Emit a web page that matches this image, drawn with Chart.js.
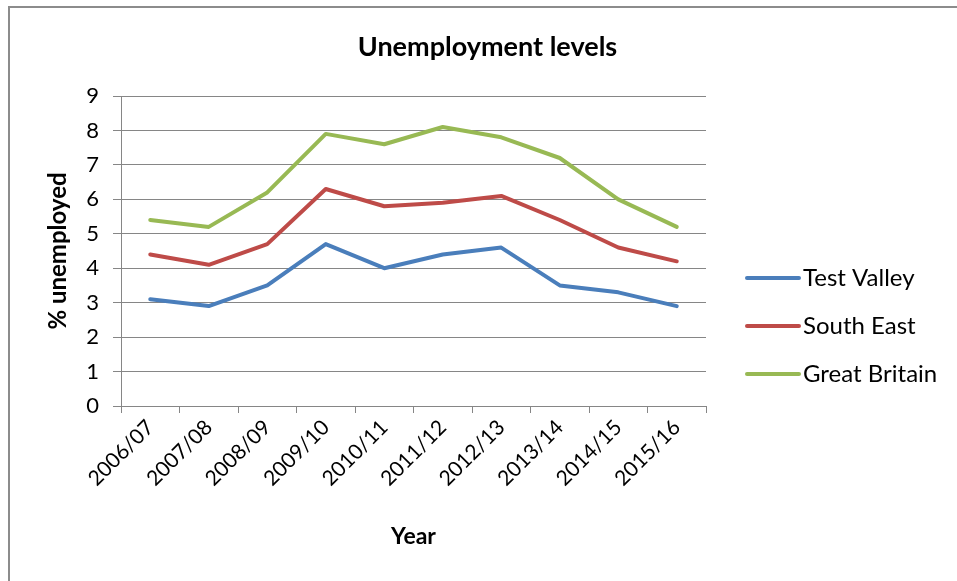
<!DOCTYPE html>
<html lang="en">
<head>
    <meta charset="UTF-8">
    <title>Unemployment levels</title>
    <script src="https://cdn.jsdelivr.net/npm/chart.js"></script>
    <style>
        body {
            margin: 0;
            background: #fff;
        }
        .frame {
            position: absolute;
            left: 8px;
            top: 6px;
            width: 949px;
            height: 575px;
            border-left: 2px solid #8c8c8c;
            border-top: 2px solid #8c8c8c;
        }
        canvas {
            position: absolute;
            left: 0;
            top: 0;
        }
    </style>
</head>
<body>
    <div class="frame"></div>
    <canvas id="lineChart" width="957" height="581"></canvas>

    <script>
        // data
        const years = ['2006/07', '2007/08', '2008/09', '2009/10', '2010/11', '2011/12', '2012/13', '2013/14', '2014/15', '2015/16'];
        const testValley = [3.1, 2.9, 3.5, 4.7, 4.0, 4.4, 4.6, 3.5, 3.3, 2.9];
        const southEast = [4.4, 4.1, 4.7, 6.3, 5.8, 5.9, 6.1, 5.4, 4.6, 4.2];
        const greatBritain = [5.4, 5.2, 6.2, 7.9, 7.6, 8.1, 7.8, 7.2, 6.0, 5.2];
        const yTicks = [0, 1, 2, 3, 4, 5, 6, 7, 8, 9];

        const FONT = 'Lato, Calibri, "Open Sans", sans-serif';

        // legend drawn by hand to sit where the spreadsheet put it
        const sideLegend = {
            id: 'sideLegend',
            afterDraw(chart) {
                const ctx = chart.ctx;
                ctx.save();
                ctx.font = '24px ' + FONT;
                ctx.textBaseline = 'middle';
                chart.data.datasets.forEach((ds, i) => {
                    const y = 278 + i * 48;
                    ctx.strokeStyle = ds.borderColor;
                    ctx.lineWidth = 4;
                    ctx.lineCap = 'round';
                    ctx.beginPath();
                    ctx.moveTo(747, y);
                    ctx.lineTo(799, y);
                    ctx.stroke();
                    ctx.fillStyle = '#000';
                    ctx.fillText(ds.label, 803, y);
                });
                ctx.restore();
            }
        };

        var ctx = document.getElementById('lineChart').getContext('2d');
        var chart = new Chart(ctx, {
            type: 'line',
            data: {
                labels: years,
                datasets: [
                    { label: 'Test Valley', data: testValley, borderColor: '#4A7EBB' },
                    { label: 'South East', data: southEast, borderColor: '#BE4B48' },
                    { label: 'Great Britain', data: greatBritain, borderColor: '#98B954' }
                ]
            },
            options: {
                responsive: false,
                animation: false,
                layout: { padding: { left: 18, top: 0, right: 0, bottom: 0 } },
                elements: {
                    line: { borderWidth: 4, tension: 0, borderJoinStyle: 'round', borderCapStyle: 'round' },
                    point: { radius: 0, hoverRadius: 0 }
                },
                plugins: {
                    legend: { display: false },
                    tooltip: { enabled: false },
                    title: {
                        display: true,
                        text: 'Unemployment levels',
                        color: '#000',
                        font: { family: FONT, size: 27, weight: 'bold' },
                        padding: { top: 30.8, bottom: 32.8 }
                    }
                },
                scales: {
                    x: {
                        offset: true,
                        grid: {
                            offset: true,
                            drawOnChartArea: false,
                            drawTicks: true,
                            tickLength: 7,
                            color: '#868686'
                        },
                        border: { color: '#868686' },
                        ticks: {
                            color: '#000',
                            font: { family: FONT, size: 21 },
                            maxRotation: 45,
                            minRotation: 45,
                            padding: 2
                        },
                        title: {
                            display: true,
                            text: 'Year',
                            color: '#000',
                            font: { family: FONT, size: 23, weight: 'bold' },
                            padding: { top: 0, bottom: 30.2 }
                        },
                        afterFit(scale) { scale.height = 175; }
                    },
                    y: {
                        min: 0,
                        max: 9,
                        afterBuildTicks(scale) {
                            scale.ticks = yTicks.map(v => ({ value: v }));
                        },
                        grid: {
                            color: '#868686',
                            tickLength: 8
                        },
                        border: { color: '#868686' },
                        ticks: {
                            color: '#000',
                            font: { family: FONT, size: 22 },
                            padding: 14
                        },
                        title: {
                            display: true,
                            text: '% unemployed',
                            color: '#000',
                            font: { family: FONT, size: 24, weight: 'bold' },
                            padding: { top: 25.6, bottom: 0 }
                        },
                        afterFit(scale) { scale.width = 103; }
                    },
                    // empty box on the right that leaves room for the legend
                    side: {
                        type: 'linear',
                        position: 'right',
                        grid: { display: false },
                        border: { display: false },
                        ticks: { display: false },
                        afterFit(scale) { scale.width = 251; }
                    }
                }
            },
            plugins: [sideLegend]
        });
    </script>
</body>
</html>
